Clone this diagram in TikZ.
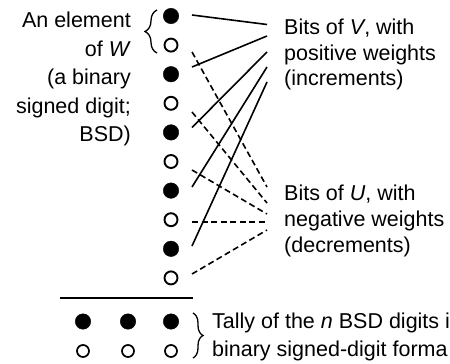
\documentclass[tikz,border=0pt]{standalone}
\usepackage{fontspec}
\setmainfont{Liberation Sans}
\usepackage{tikz}
\usetikzlibrary{positioning}
\usetikzlibrary{decorations.pathreplacing}
\tikzstyle{fullbit}=[circle,fill=black,draw=black,minimum size=15.5pt,inner sep=0pt]
\tikzstyle{emptybit}=[circle,fill=white,draw=black,line width=1.9pt,minimum size=13pt,inner sep=0pt]
\tikzstyle{smallemptybit}=[circle,fill=white,draw=black,line width=1.7pt,minimum size=12pt,inner sep=0pt]
\tikzstyle{vline} = [draw,line width=1.6pt]
\tikzstyle{uline} = [draw,line width=1.6pt,dash pattern=on 6pt off 3.5pt]
\tikzstyle{bracket} = [draw,line width=1.3pt,decorate]
\tikzset{lbl/.style={font=\fontsize{21.5}{26}\selectfont,inner sep=0pt}}

\begin{document}
\begin{tikzpicture}[x=1pt,y=-1pt]
 \useasboundingbox (0,0) rectangle (450,364);

 %Column of W
   \foreach \y/\name/\style in {16/w1/fullbit, 45.1/w2/emptybit, 74.2/w3/fullbit, 103.3/w4/emptybit, 132.4/w5/fullbit,
          161.5/w6/emptybit, 190.6/w7/fullbit, 219.7/w8/emptybit, 248.8/w9/fullbit, 277.9/w10/emptybit}
          \node[\style] (\name) at (171,\y) {};

 %Left labels
   \foreach \y/\name/\txt in {27.5/la/{An element}, 56/lb/{of \textit{W}}, 84.5/lc/{(a binary},
          113/ld/{signed digit;}, 141.5/le/{BSD)}}
          \node[lbl,anchor=base east] (\name) at (131,\y) {\txt};

 \draw[bracket,decoration={brace,amplitude=12pt}] (157,53) -- (157,10);

 %Ends of the connectors
   \foreach \name/\ly/\ry in {v1/15/24.5, v2/67/36, v3/127.5/52, v4/187/67, v5/246/82,
          u1/52/187, u2/112/203, u3/170/214, u4/222/222, u5/274/230}
   {
          \coordinate (\name-a) at (192,\ly);
          \coordinate (\name-b) at (267,\ry);
   }

  \foreach \name in {v1,v2,v3,v4,v5}
         \path[vline] (\name-a) -- (\name-b);

  \foreach \name in {u1,u2,u3,u4,u5}
         \path[uline] (\name-a) -- (\name-b);

 %Right labels
   \foreach \y/\name/\txt in {34.5/ra/{Bits of \textit{V}, with}, 60/rb/{positive weights}, 85.5/rc/{(increments)},
          200/rd/{Bits of \textit{U}, with}, 226/re/{negative weights}, 252/rf/{(decrements)}}
          \node[lbl,anchor=base west] (\name) at (284,\y) {\txt};

 %Tally
 \draw[line width=1.6pt] (60,298) -- (193,298);

   \foreach \x/\y/\name/\style in {83/321.5/t1/fullbit, 128/321.5/t2/fullbit, 171/321.5/t3/fullbit,
          83/351/t4/smallemptybit, 128/351/t5/smallemptybit, 171/351/t6/smallemptybit}
          \node[\style] (\name) at (\x,\y) {};

 \draw[bracket,decoration={brace,amplitude=10pt}] (193,313) -- (193,358);

   \foreach \y/\name/\txt in {328/ta/{Tally of the \textit{n} BSD digits i}, 356/tb/{binary signed-digit forma}}
          \node[lbl,anchor=base west] (\name) at (212,\y) {\txt};

\end{tikzpicture}
\end{document}
